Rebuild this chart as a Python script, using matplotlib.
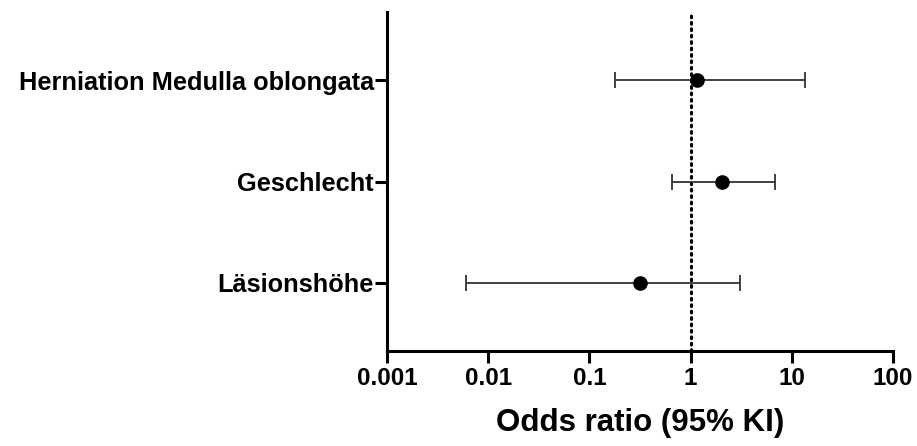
import matplotlib.pyplot as plt
import numpy as np

plt.rcParams['font.family'] = ['Liberation Sans', 'DejaVu Sans']
plt.rcParams['font.weight'] = 'bold'

# Werte
faktoren = ['Herniation Medulla oblongata', 'Geschlecht', 'Läsionshöhe']
odds_ratio = [1.16, 2.05, 0.315]
ki_unten = [0.179, 0.65, 0.006]
ki_oben = [13.4, 6.86, 3.1]
x_ticks = [0.001, 0.01, 0.1, 1, 10, 100]
x_tick_labels = ['0.001', '0.01', '0.1', '1', '10', '100']

fig = plt.figure(figsize=(9.17, 4.46), dpi=100)
ax = fig.add_axes([387 / 917, 95 / 446, 506 / 917, 339 / 446])

y = np.arange(len(faktoren))
odds_ratio = np.array(odds_ratio)
fehler = [odds_ratio - np.array(ki_unten), np.array(ki_oben) - odds_ratio]

ax.axvline(1, color='black', lw=2.2, linestyle=(0, (0.6, 1.5)),
           dash_capstyle='round', zorder=1)
ax.errorbar(odds_ratio, y, xerr=fehler, fmt='o', color='black', ecolor='#333333',
            elinewidth=1.3, capsize=6, capthick=1.3, markersize=9.5, zorder=3)

ax.set_xscale('log')
ax.set_xlim(0.001, 100)
ax.set_ylim(len(faktoren) - 1 + 0.67, -0.67)
ax.set_xticks(x_ticks)
ax.set_xticklabels(x_tick_labels, fontsize=17.5)
ax.minorticks_off()
ax.set_yticks(y)
ax.set_yticklabels(faktoren, fontsize=18.3)

for s in ['top', 'right']:
    ax.spines[s].set_visible(False)
for s in ['left', 'bottom']:
    ax.spines[s].set_linewidth(2.2)

ax.tick_params(axis='both', width=2.2, length=8.5)
ax.tick_params(axis='x', pad=3)
ax.tick_params(axis='y', pad=1)
ax.set_xlabel('Odds ratio (95% KI)', fontsize=22.5, fontweight='bold', labelpad=13)

fig.savefig('out.png', dpi=100)
